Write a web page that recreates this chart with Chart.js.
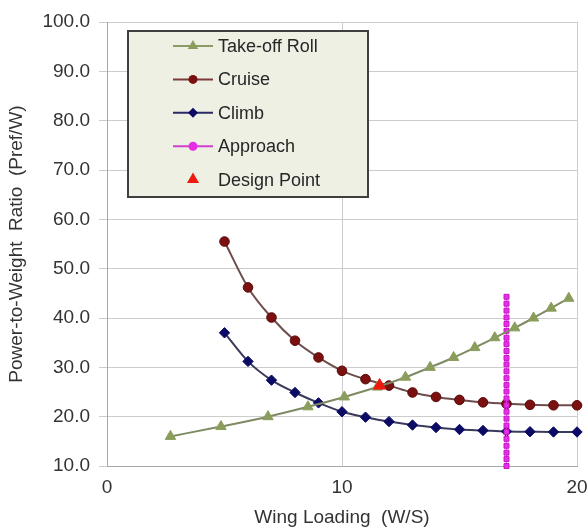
<!DOCTYPE html>
<html>
<head>
<meta charset="utf-8">
<script src="https://cdn.jsdelivr.net/npm/chart.js@4.4.1/dist/chart.umd.min.js"></script>
<style>
  html, body { margin: 0; padding: 0; background: #ffffff; }
  #wrap { width: 588px; height: 527px; }
</style>
</head>
<body>
<div id="wrap"><canvas id="c" width="588" height="527"></canvas></div>
<script>
// Constraint curves: wing loading (W/S) against power-to-weight ratio (Pref/W)
const takeoffWS = [2.7, 4.85, 6.85, 8.55, 10.1, 11.5, 12.7, 13.75, 14.75, 15.65, 16.5, 17.35, 18.15, 18.9, 19.65];
const takeoffPW = [16, 18, 20, 22, 24, 26, 28, 30, 32, 34, 36, 38, 40, 42, 44];

const cruiseWS = [5, 6, 7, 8, 9, 10, 11, 12, 13, 14, 15, 16, 17, 18, 19, 20];
const cruisePW = [55.5, 46.2, 40.1, 35.4, 32.0, 29.3, 27.6, 26.3, 24.9, 24.0, 23.4, 22.9, 22.6, 22.4, 22.3, 22.3];

const climbWS = [5, 6, 7, 8, 9, 10, 11, 12, 13, 14, 15, 16, 17, 18, 19, 20];
const climbPW = [37.0, 31.2, 27.4, 24.9, 22.8, 21.0, 19.9, 19.0, 18.3, 17.8, 17.4, 17.2, 17.0, 16.95, 16.9, 16.9];

const approachWS = 17;
const approachPW = [10.0, 11.4, 12.7, 14.1, 15.5, 16.9, 18.2, 19.6, 21.0, 22.3, 23.7, 25.1, 26.4,
                    27.8, 29.2, 30.6, 31.9, 33.3, 34.7, 36.0, 37.4, 38.8, 40.1, 41.5, 42.9, 44.3];

const designWS = [11.6];
const designPW = [26.3];

const seriesNames = ['Take-off Roll', 'Cruise', 'Climb', 'Approach', 'Design Point'];
const xTicks = [0, 10, 20];
const yTicks = [10, 20, 30, 40, 50, 60, 70, 80, 90, 100];

const pairs = (xs, ys) => ys.map((y, i) => ({ x: Array.isArray(xs) ? xs[i] : xs, y }));

const FONT = '"Liberation Sans", Arial, sans-serif';

// Boxed legend: each entry shows a short line segment with its marker
const legendBox = {
  id: 'legendBox',
  afterDraw(chart) {
    const { ctx, chartArea } = chart;
    const x0 = chartArea.left + 21, y0 = chartArea.top + 9, w = 240, h = 166;
    ctx.save();
    ctx.fillStyle = '#eef0e4';
    ctx.fillRect(x0, y0, w, h);
    ctx.lineWidth = 2;
    ctx.strokeStyle = '#3f3f3f';
    ctx.strokeRect(x0, y0, w, h);
    ctx.font = '18px ' + FONT;
    ctx.textBaseline = 'middle';
    chart.data.datasets.forEach((ds, i) => {
      const y = y0 + 15 + i * 33.4;
      const mx = x0 + 65;
      if (ds.showLine !== false) {
        ctx.strokeStyle = ds.legendLine;
        ctx.lineWidth = 2;
        ctx.beginPath();
        ctx.moveTo(x0 + 45, y);
        ctx.lineTo(x0 + 85, y);
        ctx.stroke();
      }
      ctx.fillStyle = ds.pointBackgroundColor;
      ctx.beginPath();
      const st = ds.legendStyle, r = ds.legendRadius;
      if (st === 'circle') {
        ctx.arc(mx, y, r, 0, Math.PI * 2);
      } else if (st === 'triangle') {
        ctx.moveTo(mx, y - r);
        ctx.lineTo(mx + 0.866 * r, y + 0.5 * r);
        ctx.lineTo(mx - 0.866 * r, y + 0.5 * r);
        ctx.closePath();
      } else if (st === 'rectRot') {
        ctx.moveTo(mx - r, y);
        ctx.lineTo(mx, y - r);
        ctx.lineTo(mx + r, y);
        ctx.lineTo(mx, y + r);
        ctx.closePath();
      }
      ctx.fill();
      ctx.fillStyle = '#262626';
      ctx.fillText(ds.label, x0 + 90, y + 1);
    });
    ctx.restore();
  }
};

new Chart(document.getElementById('c'), {
  type: 'scatter',
  data: {
    datasets: [
      {
        label: seriesNames[0],
        data: pairs(takeoffWS, takeoffPW),
        showLine: true,
        borderColor: '#7e8a62',
        legendLine: '#8c9a66',
        borderWidth: 2,
        pointStyle: 'triangle',
        pointRadius: 6,
        pointBorderWidth: 1,
        pointBackgroundColor: '#8b9d5c',
        pointBorderColor: '#8b9d5c',
        legendStyle: 'triangle',
        legendRadius: 6,
        cubicInterpolationMode: 'monotone',
        clip: false,
        order: 1
      },
      {
        label: seriesNames[1],
        data: pairs(cruiseWS, cruisePW),
        showLine: true,
        borderColor: '#6e4c4c',
        legendLine: '#7a3a3a',
        borderWidth: 2,
        pointStyle: 'circle',
        pointRadius: 4.8,
        pointBorderWidth: 1,
        pointBackgroundColor: '#7a1010',
        pointBorderColor: '#5a0808',
        legendStyle: 'circle',
        legendRadius: 4.5,
        cubicInterpolationMode: 'monotone',
        clip: false,
        order: 3
      },
      {
        label: seriesNames[2],
        data: pairs(climbWS, climbPW),
        showLine: true,
        borderColor: '#3a3a5c',
        legendLine: '#2a2a66',
        borderWidth: 2,
        pointStyle: 'rectRot',
        pointRadius: 5.2,
        pointBorderWidth: 1,
        pointBackgroundColor: '#0b0b66',
        pointBorderColor: '#0b0b66',
        legendStyle: 'rectRot',
        legendRadius: 5,
        cubicInterpolationMode: 'monotone',
        clip: false,
        order: 4
      },
      {
        label: seriesNames[3],
        data: pairs(approachWS, approachPW),
        showLine: true,
        borderColor: '#e86ae8',
        legendLine: '#d040d0',
        borderWidth: 1,
        pointStyle: 'rect',
        pointRadius: 3.5,
        pointBorderWidth: 1,
        pointBackgroundColor: '#e62ee6',
        pointBorderColor: '#c814c8',
        legendStyle: 'circle',
        legendRadius: 4.5,
        clip: false,
        order: 2
      },
      {
        label: seriesNames[4],
        data: pairs(designWS, designPW),
        showLine: false,
        pointStyle: 'triangle',
        pointRadius: 7,
        pointBorderWidth: 1,
        pointBackgroundColor: '#ee1a10',
        pointBorderColor: '#ee1a10',
        legendStyle: 'triangle',
        legendRadius: 7,
        clip: false,
        order: 0
      }
    ]
  },
  options: {
    responsive: false,
    animation: false,
    devicePixelRatio: 1,
    layout: { padding: { top: 22, right: 0, left: 0, bottom: 0 } },
    plugins: {
      legend: { display: false },
      tooltip: { enabled: false }
    },
    scales: {
      x: {
        type: 'linear',
        min: 0,
        max: 20,
        afterBuildTicks: (s) => { s.ticks = xTicks.map(v => ({ value: v })); },
        afterFit: (s) => { s.height = 61; s.paddingRight = 11; s.paddingLeft = 0; },
        grid: { color: '#cccccc', lineWidth: 1, drawTicks: false },
        border: { color: '#a8a8a8', width: 1 },
        ticks: {
          padding: 10,
          color: '#333333',
          font: { family: FONT, size: 19 },
          callback: (v) => String(v)
        },
        title: {
          display: true,
          text: 'Wing Loading  (W/S)',
          color: '#333333',
          font: { family: FONT, size: 19, lineHeight: 1 },
          padding: { top: 0, bottom: 0 }
        }
      },
      y: {
        type: 'linear',
        min: 10,
        max: 100,
        afterBuildTicks: (s) => { s.ticks = yTicks.map(v => ({ value: v })); },
        afterFit: (s) => { s.width = 107; },
        grid: { color: '#cccccc', lineWidth: 1, tickLength: 8 },
        border: { color: '#a8a8a8', width: 1 },
        ticks: {
          padding: 9,
          color: '#333333',
          font: { family: FONT, size: 19 },
          callback: (v) => Number(v).toFixed(1)
        },
        title: {
          display: true,
          text: 'Power-to-Weight  Ratio  (Pref/W)',
          color: '#333333',
          font: { family: FONT, size: 19, lineHeight: 1.2 },
          padding: { top: 5, bottom: 0 }
        }
      }
    }
  },
  plugins: [legendBox]
});
</script>
</body>
</html>
